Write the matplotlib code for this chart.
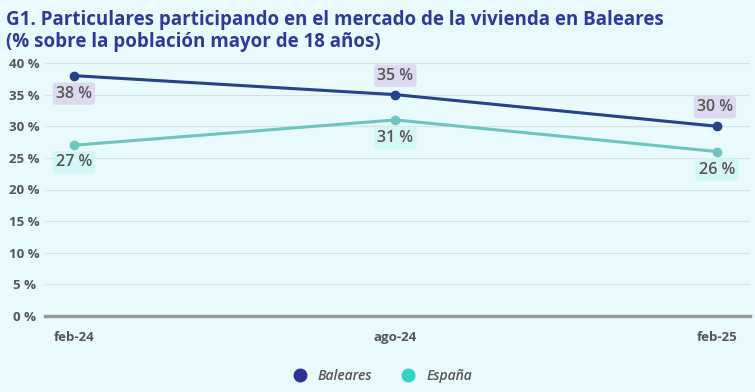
import matplotlib.pyplot as plt
from matplotlib.lines import Line2D

periods = ['feb-24', 'ago-24', 'feb-25']
baleares = [38, 35, 30]
espana = [27, 31, 26]
yticks = [0, 5, 10, 15, 20, 25, 30, 35, 40]

bg = '#e8fafb'
col_bal = '#24438f'
col_esp = '#6ec4bf'
txt = '#555555'

plt.rcParams['font.family'] = ['Open Sans', 'DejaVu Sans']

fig = plt.figure(figsize=(7.55, 3.92), dpi=100, facecolor=bg)
ax = fig.add_axes([45 / 755, 1 - 316 / 392, 705 / 755, (316 - 63) / 392])
ax.set_facecolor(bg)

x = list(range(len(periods)))
ax.plot(x, baleares, color=col_bal, lw=2.2, marker='o', ms=6, clip_on=False, zorder=3)
ax.plot(x, espana, color=col_esp, lw=2.2, marker='o', ms=6, clip_on=False, zorder=3)

# etiquetas de valor (desplazamiento en pixeles)
bal_off = [(0, -18), (0, 19), (-2, 19)]
esp_off = [(0, -17), (0, -18), (0, -18)]
for i, v in enumerate(baleares):
    ax.annotate(f'{v} %', (i, v), xytext=bal_off[i], textcoords='offset pixels',
                ha='center', va='center', fontsize=11.5, fontweight='semibold', color=txt,
                bbox=dict(boxstyle='round,pad=0.2', fc='#ddd9f0', ec='none'), zorder=4)
for i, v in enumerate(espana):
    ax.annotate(f'{v} %', (i, v), xytext=esp_off[i], textcoords='offset pixels',
                ha='center', va='center', fontsize=11.5, fontweight='semibold', color=txt,
                bbox=dict(boxstyle='round,pad=0.2', fc='#d3f6f6', ec='none'), zorder=4)

ax.set_xlim(-0.09, 2.103)
ax.set_ylim(0, 40)
ax.set_yticks(yticks)
ax.set_yticklabels([f'{t} %' for t in yticks])
ax.set_xticks(x)
ax.set_xticklabels(periods)
ax.tick_params(length=0, labelsize=9.5, labelcolor=txt)
ax.tick_params(axis='x', pad=11)
ax.tick_params(axis='y', pad=15)
for lab in ax.get_xticklabels() + ax.get_yticklabels():
    lab.set_fontweight('bold')
for lab in ax.get_yticklabels():
    lab.set_horizontalalignment('center')
ax.grid(axis='y', color='#d3e3e4', lw=0.8)
for s in ['top', 'right', 'left']:
    ax.spines[s].set_visible(False)
ax.spines['bottom'].set_color('#999999')
ax.spines['bottom'].set_linewidth(2.5)

fig.text(0.008, 0.975, 'G1. Particulares participando en el mercado de la vivienda en Baleares\n'
         '(% sobre la población mayor de 18 años)', ha='left', va='top',
         fontsize=13.5, fontweight='bold', color='#2e3a97', linespacing=1.15)

handles = [Line2D([], [], ls='', marker='o', ms=9, color='#2d3395'),
           Line2D([], [], ls='', marker='o', ms=9, color='#2ed3c6')]
leg = fig.legend(handles, ['Baleares', 'España'], loc='center', bbox_to_anchor=(0.502, 0.04),
                 ncol=2, frameon=False, handletextpad=0.3, columnspacing=1.6,
                 prop={'style': 'italic', 'weight': 'semibold', 'size': 10})
for t in leg.get_texts():
    t.set_color(txt)

fig.savefig('out.png', dpi=100, facecolor=bg)
